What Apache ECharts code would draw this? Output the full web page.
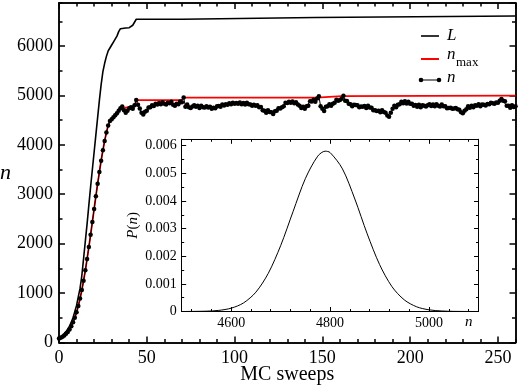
<!DOCTYPE html>
<html>
<head>
<meta charset="utf-8">
<script src="https://cdn.jsdelivr.net/npm/echarts@6.0.0/dist/echarts.min.js"></script>
<style>
html, body { margin: 0; padding: 0; background: #fff; }
#chart { width: 518px; height: 386px; }
</style>
</head>
<body>
<div id="chart"></div>
<script>
var SERIF = '"Liberation Serif", "DejaVu Serif", serif';

// L (box size) vs sweeps
var lPoints = [[0,100],[2,140],[4,220],[6,330],[8,500],[10,750],[12,1100],[13,1350],[14,1700],[15,2050],
  [16,2400],[17,2780],[18,3150],[19,3500],[20,3850],[21,4200],[22,4550],[23,4900],[24,5220],[25,5480],
  [26,5650],[27,5790],[28,5900],[29,5960],[30,6020],[31,6080],[32,6140],[33,6200],[34,6290],[35,6350],
  [36,6360],[38,6365],[40,6370],[41,6390],[42,6420],[43,6440],[44,6541],[70,6541],[71,6576],[146,6576],
  [147,6608],[260,6608]];

// n_max (running maximum)
var nmaxPoints = [[0,80],[1,95],[2,115],[3,140],[4,175],[5,215],[6,265],[7,330],[8,410],[9,500],
  [10,610],[11,740],[12,890],[13,1060],[14,1250],[15,1460],[16,1690],[17,1930],[18,2180],[19,2440],
  [20,2700],[21,2960],[22,3210],[23,3450],[24,3680],[25,3890],[26,4080],[27,4250],[28,4390],[29,4480],
  [30,4520],[31,4560],[32,4600],[33,4640],[34,4690],[35,4740],[36,4775],[43,4775],[44,4906],[70,4906],
  [71,4957],[147,4957],[148,4985],[161,4985],[162,4995],[260,4995]];

// n, one value per MC sweep (0..260)
var nValues = [
  80, 95, 115, 140, 175, 215, 265, 330, 410, 500,
  610, 740, 890, 1060, 1250, 1460, 1690, 1930, 2180, 2440,
  2700, 2960, 3210, 3450, 3680, 3890, 4080, 4250, 4390, 4480,
  4520, 4560, 4600, 4640, 4690, 4740, 4775, 4700, 4650, 4690,
  4740, 4760, 4730, 4800, 4906,
  4810, 4735, 4650, 4615, 4670, 4690, 4755, 4760, 4800, 4785,
  4830, 4815, 4845, 4820, 4860, 4830, 4815, 4850, 4840, 4870,
  4810, 4790, 4830, 4820, 4875, 4860, 4957,
  4770, 4815, 4760, 4745, 4775, 4800, 4770, 4790, 4745, 4790,
  4760, 4755, 4780, 4755, 4770, 4730, 4750, 4740, 4780, 4785,
  4770, 4815, 4795, 4820, 4810, 4840, 4820, 4850, 4830, 4845,
  4830, 4855, 4820, 4845, 4815, 4850, 4820, 4815, 4790, 4810,
  4790, 4800, 4760, 4765, 4700, 4690, 4650, 4700, 4665, 4660,
  4625, 4680, 4690, 4740, 4735, 4760, 4780, 4850, 4845, 4870,
  4850, 4875, 4840, 4860, 4815, 4790, 4745, 4770, 4730, 4780,
  4790, 4880, 4875, 4910, 4870, 4940, 4985, 4780, 4730, 4685,
  4770, 4780, 4820, 4790, 4830, 4850, 4910, 4890, 4905, 4930,
  4995, 4890, 4885, 4830, 4820, 4780, 4810, 4805, 4800, 4760,
  4775, 4770, 4785, 4745, 4790, 4755, 4750, 4700, 4700, 4685,
  4690, 4660, 4700, 4665, 4650, 4595, 4570, 4650, 4730, 4790,
  4760, 4810, 4820, 4870, 4840, 4880, 4835, 4870, 4830, 4830,
  4790, 4805, 4770, 4810, 4760, 4800, 4790, 4775, 4800, 4820,
  4785, 4815, 4780, 4820, 4790, 4775, 4815, 4780, 4780, 4740,
  4745, 4750, 4730, 4735, 4745, 4720, 4710, 4660, 4640, 4690,
  4720, 4780, 4750, 4790, 4760, 4800, 4790, 4820, 4780, 4815,
  4810, 4795, 4825, 4820, 4850, 4840, 4830, 4855, 4850, 4890,
  4925, 4890, 4880, 4790, 4790, 4750, 4800, 4765, 4780
];

// inset: P(n)
var pdfPoints = [[4500,0],[4550,0.000012],[4575,0.00004],[4600,0.00012],[4625,0.00031],[4650,0.0007],
  [4675,0.00138],[4700,0.00238],[4725,0.00361],[4750,0.00481],[4775,0.00562],[4790,0.0058],
  [4800,0.00575],[4825,0.00516],[4850,0.00407],[4875,0.00281],[4900,0.0017],[4925,0.0009],
  [4950,0.00042],[4975,0.00017],[5000,0.00006],[5025,0.00002],[5050,0.000005],[5100,0]];

var chart = echarts.init(document.getElementById('chart'), null, { renderer: 'canvas' });

function plain(v) { return String(v); }
function prob(v) { return v === 0 ? '0' : v.toFixed(3); }

// one axis carrying one set of ticks, drawn inside like xmgrace
function axis(grid, pos, range, interval, len, lw, line, label) {
  var a = {
    type: 'value', gridIndex: grid, position: pos, min: range[0], max: range[1], interval: interval,
    splitLine: { show: false },
    axisLine: { show: line, onZero: false, lineStyle: { color: '#000', width: lw } },
    axisTick: { show: len > 0, inside: true, length: len, lineStyle: { color: '#000', width: lw } },
    axisLabel: { show: false }
  };
  if (label) {
    a.axisLabel = Object.assign({ show: true, color: '#000', fontFamily: SERIF, showMaxLabel: false }, label);
  }
  return a;
}

// main plot 0..260 sweeps, 0..6870; inset 4500..5100, 0..0.00623
var mainX = [0, 260], mainY = [0, 6870], insX = [4500, 5100], insY = [0, 0.00623];
var insLeft = 181.7, insRight = 39.5, insPx = (518 - insLeft - insRight) / 600;

var xAxes = [
  Object.assign(axis(0, 'bottom', mainX, 50, 6, 1.5, true, { fontSize: 18, margin: 7, formatter: plain }), {
    name: 'MC sweeps', nameLocation: 'middle', nameGap: 22, nameMoveOverlap: false,
    nameTextStyle: { color: '#000', fontFamily: SERIF, fontSize: 20 }
  }),
  axis(0, 'bottom', mainX, 10, 3.5, 1.5, true),
  axis(0, 'top', mainX, 50, 6, 1.5, true),
  axis(0, 'top', mainX, 10, 3.5, 1.5, true),
  // inset box lines (data axes)
  axis(1, 'bottom', insX, null, 0, 1, true),
  axis(1, 'top', insX, null, 0, 1, true),
  // inset ticks: grids shifted so that min is a multiple of the interval
  axis(2, 'bottom', [4600, 5100], 200, 4.5, 1, false, { fontSize: 14, margin: 5, formatter: plain }),
  axis(2, 'top', [4600, 5100], 200, 4.5, 1, false),
  axis(3, 'bottom', [4520, 5100], 40, 2.5, 1, false),
  axis(3, 'top', [4520, 5100], 40, 2.5, 1, false)
];

var yAxes = [
  Object.assign(axis(0, 'left', mainY, 1000, 6, 1.5, true, { fontSize: 18, margin: 6, formatter: plain }), {
    name: 'n', nameLocation: 'middle', nameRotate: 0, nameGap: 45,
    nameTextStyle: { color: '#000', fontFamily: SERIF, fontSize: 22, fontStyle: 'italic' }
  }),
  axis(0, 'left', mainY, 500, 3.5, 1.5, true),
  axis(0, 'right', mainY, 1000, 6, 1.5, true),
  axis(0, 'right', mainY, 500, 3.5, 1.5, true),
  Object.assign(axis(1, 'left', insY, 0.001, 4.5, 1, true, { fontSize: 14, margin: 5, formatter: prob }), {
    name: '{i|P}({i|n})', nameLocation: 'middle', nameGap: 41, nameMoveOverlap: false,
    nameTextStyle: { color: '#000', fontFamily: SERIF, fontSize: 15,
      rich: { i: { fontFamily: SERIF, fontSize: 15, fontStyle: 'italic', color: '#000' } } }
  }),
  axis(1, 'left', insY, 0.0005, 2.5, 1, true),
  axis(1, 'right', insY, 0.001, 4.5, 1, true),
  axis(1, 'right', insY, 0.0005, 2.5, 1, true),
  { type: 'value', gridIndex: 2, show: false, min: 0, max: 1 },
  { type: 'value', gridIndex: 3, show: false, min: 0, max: 1 }
];

var legendFont = 'italic 17px ' + SERIF;

var option = {
  animation: false,
  backgroundColor: '#fff',
  grid: [
    { left: 59, right: 2.5, top: 3, bottom: 43.5, outerBoundsMode: 'none' },
    { left: insLeft, right: insRight, top: 139.3, bottom: 74.5, outerBoundsMode: 'none',
      show: true, backgroundColor: '#fff', borderWidth: 0 },
    { left: insLeft + 100 * insPx, right: insRight, top: 139.3, bottom: 74.5, outerBoundsMode: 'none' },
    { left: insLeft + 20 * insPx, right: insRight, top: 139.3, bottom: 74.5, outerBoundsMode: 'none' }
  ],
  xAxis: xAxes,
  yAxis: yAxes,
  series: [
    {
      name: 'L', type: 'line', xAxisIndex: 0, yAxisIndex: 0,
      data: lPoints, showSymbol: false,
      lineStyle: { color: '#000', width: 1.6 }
    },
    {
      name: 'nmax', type: 'line', xAxisIndex: 0, yAxisIndex: 0,
      data: nmaxPoints, showSymbol: false,
      lineStyle: { color: '#ff0000', width: 1.8 }
    },
    {
      name: 'n', type: 'line', xAxisIndex: 0, yAxisIndex: 0,
      data: nValues.map(function (v, i) { return [i, v]; }),
      symbol: 'circle', symbolSize: 4.5, showAllSymbol: true,
      itemStyle: { color: '#000' },
      lineStyle: { color: '#000', width: 1 }
    },
    {
      name: 'P(n)', type: 'line', xAxisIndex: 4, yAxisIndex: 4,
      data: pdfPoints, showSymbol: false, smooth: 0.3,
      lineStyle: { color: '#000', width: 1 }
    }
  ],
  graphic: [
    // legend
    { type: 'line', shape: { x1: 421, y1: 36, x2: 439, y2: 36 }, style: { stroke: '#000', lineWidth: 1.6 } },
    { type: 'text', x: 447, y: 36, style: { text: 'L', font: legendFont, fill: '#000', verticalAlign: 'middle' } },
    { type: 'line', shape: { x1: 421, y1: 59, x2: 439, y2: 59 }, style: { stroke: '#ff0000', lineWidth: 2 } },
    { type: 'text', x: 447, y: 55, style: { text: 'n', font: legendFont, fill: '#000', verticalAlign: 'middle' } },
    { type: 'text', x: 456, y: 63, style: { text: 'max', font: '13px ' + SERIF, fill: '#000', verticalAlign: 'middle' } },
    { type: 'line', shape: { x1: 421, y1: 80, x2: 439, y2: 80 }, style: { stroke: '#000', lineWidth: 1 } },
    { type: 'circle', shape: { cx: 421, cy: 80, r: 2.3 }, style: { fill: '#000' } },
    { type: 'circle', shape: { cx: 439, cy: 80, r: 2.3 }, style: { fill: '#000' } },
    { type: 'text', x: 447, y: 78, style: { text: 'n', font: legendFont, fill: '#000', verticalAlign: 'middle' } },
    // inset x-axis name
    { type: 'text', x: 465, y: 322, style: { text: 'n', font: 'italic 15px ' + SERIF, fill: '#000', verticalAlign: 'middle' } }
  ]
};

chart.setOption(option);
</script>
</body>
</html>
